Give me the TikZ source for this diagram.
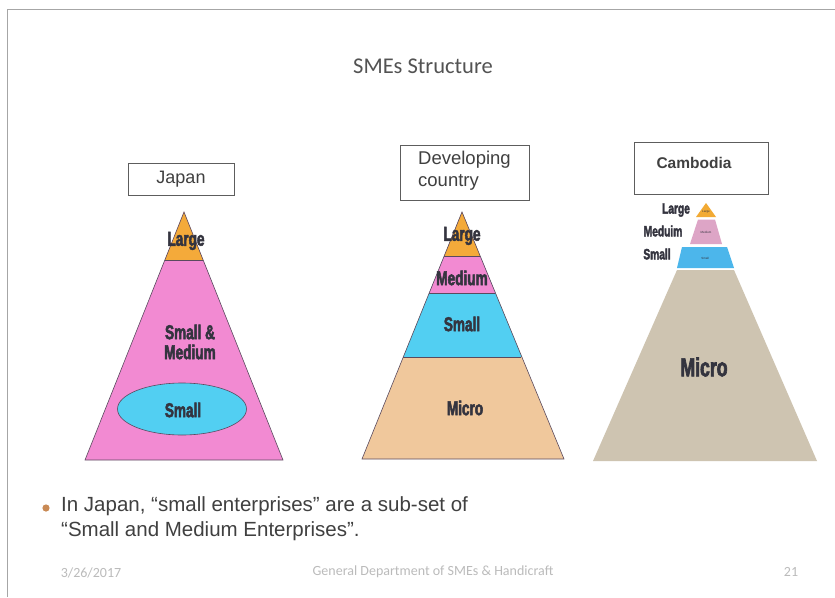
\documentclass[tikz,border=0pt]{standalone}
\usepackage{fontspec}
\usetikzlibrary{shapes.geometric}
\setmainfont{Liberation Sans}
\newfontfamily\calib{Carlito}
\newfontfamily\labfont[FakeStretch=0.68,FakeBold=2.5]{Liberation Sans}
\definecolor{jorange}{HTML}{F4AA3A}
\definecolor{jpink}{HTML}{F28AD2}
\definecolor{jcyan}{HTML}{52CFF2}
\definecolor{jtan}{HTML}{F0C89C}
\definecolor{cgray}{HTML}{CEC4B1}
\definecolor{cpink}{HTML}{DDA5C6}
\definecolor{cblue}{HTML}{4CB6EB}
\definecolor{corange}{HTML}{F2AA34}
\definecolor{labcol}{HTML}{34343F}
\definecolor{txtcol}{HTML}{404040}
\definecolor{edgecol}{HTML}{5A4A5E}
\definecolor{footcol}{HTML}{BBBBBB}
\definecolor{bulletcol}{HTML}{C98A55}
\begin{document}
\begin{tikzpicture}[x=1pt,y=-1pt,
  lab/.style={font=\labfont\bfseries\fontsize{20}{20}\selectfont, text=labcol, inner sep=0pt, align=center},
  clab/.style={font=\labfont\bfseries\fontsize{15}{15}\selectfont, text=labcol, inner sep=0pt},
  tinylab/.style={font=\fontsize{3}{3}\selectfont, text=labcol, inner sep=0pt},
  titlebox/.style={draw=txtcol!85, line width=0.8pt, fill=white, text=txtcol},
  outline/.style={draw=edgecol, line width=0.6pt},
  foot/.style={text=footcol, font=\calib\fontsize{14}{15}\selectfont}]
\useasboundingbox (0,0) rectangle (835,597);
\fill[white] (0,0) rectangle (835,597);
% slide frame
\draw[gray!70, line width=0.8pt] (7,597) -- (7,9) -- (835,9);

% title
\node[text=txtcol!90, font=\calib\fontsize{22.5}{25}\selectfont] (title) at (423,66) {SMEs Structure};

% ---------- Japan ----------
\node[titlebox, font=\fontsize{18}{20}\selectfont, minimum width=106pt, minimum height=32pt, inner sep=0pt] (jbox) at (181,179) {Japan};
\begin{scope}
\clip (184,212) -- (85,460) -- (283,460) -- cycle;
\fill[jpink] (80,205) rectangle (290,465);
\fill[jorange] (80,205) rectangle (290,260);
\end{scope}
\draw[edgecol, line width=0.5pt] (164.8,260) -- (203.2,260);
\draw[outline] (184,212) -- (85,460) -- (283,460) -- cycle;
\node[ellipse, draw=edgecol, line width=0.6pt, fill=jcyan, minimum width=129pt, minimum height=52pt, inner sep=0pt] (jell) at (182,409) {};
\node[lab] (jl) at (186,241) {Large};
\node[lab] (jsm) at (190,342) {Small \&\\Medium};
\node[lab] (js) at (183,410) {Small};

% ---------- Developing ----------
\node[titlebox, minimum width=129pt, minimum height=55pt, inner sep=0pt] (dbox) at (464.5,172.5) {};
\node[text=txtcol, font=\fontsize{18.5}{22}\selectfont, align=left, anchor=north west, inner sep=0pt] (dtxt) at (418,151) {Developing\\country};
\begin{scope}
\clip (462,212) -- (362,459) -- (564,459) -- cycle;
\fill[jtan] (355,205) rectangle (570,465);
\fill[jcyan] (355,205) rectangle (570,357);
\fill[jpink] (355,205) rectangle (570,293);
\fill[jorange] (355,205) rectangle (570,256);
\end{scope}
\draw[edgecol, line width=0.5pt] (444.2,256) -- (479.8,256);
\draw[edgecol, line width=0.5pt] (429.2,293) -- (494.8,293);
\draw[edgecol, line width=0.5pt] (403.3,357) -- (520.7,357);
\draw[outline] (462,212) -- (362,459) -- (564,459) -- cycle;
\node[lab] (dl) at (462,236) {Large};
\node[lab] (dm) at (462,278) {Medium};
\node[lab] (ds) at (462,324) {Small};
\node[lab] (dmi) at (465,408) {Micro};

% ---------- Cambodia ----------
\node[titlebox, minimum width=134pt, minimum height=52pt, inner sep=0pt] (cbox) at (701,168) {};
\node[text=txtcol, font=\bfseries\fontsize{15.5}{17}\selectfont, inner sep=0pt] (ctxt) at (694,163) {Cambodia};
\fill[corange] (706,203) -- (696,217) -- (716,217) -- cycle;
\fill[cpink] (698,219.5) -- (715,219.5) -- (722,244) -- (690,244) -- cycle;
\fill[cblue] (682,247) -- (727,247) -- (734,268) -- (677,268) -- cycle;
\fill[cgray] (677,270) -- (734,270) -- (817,461) -- (593,461) -- cycle;
\node[tinylab] (ct1) at (706,212) {Large};
\node[tinylab] (ct2) at (706,232) {Medium};
\node[tinylab] (ct3) at (705,258) {Small};
\node[clab] (cl) at (676,210) {Large};
\node[clab] (cm) at (663,231) {Meduim};
\node[clab] (cs) at (657,254) {Small};
\node[lab, font=\labfont\bfseries\fontsize{26}{26}\selectfont] (cmi) at (704,367) {Micro};

% ---------- bullet ----------
\fill[bulletcol] (46,508) circle (3.6pt);
\node[text=txtcol, font=\fontsize{20.5}{25}\selectfont, align=left, anchor=north west, inner sep=0pt] (btxt) at (61,496)
  {In Japan, “small enterprises” are a sub-set of\\“Small and Medium Enterprises”.};

% ---------- footer ----------
\node[foot] (fdate) at (91,573) {3/26/2017};
\node[foot] (fmid) at (433,572) {General Department of SMEs \& Handicraft};
\node[foot] (fnum) at (791,572) {21};
\end{tikzpicture}
\end{document}
